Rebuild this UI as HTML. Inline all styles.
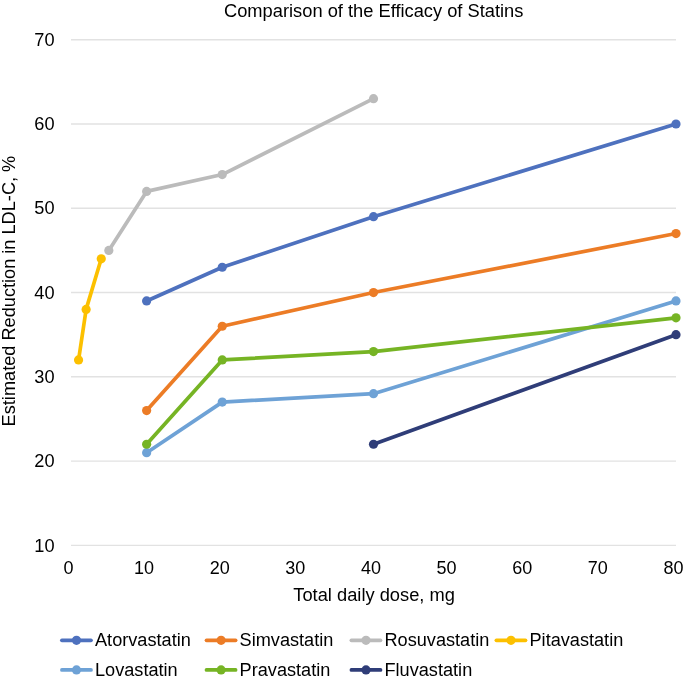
<!DOCTYPE html>
<html><head><meta charset="utf-8"><title>Comparison of the Efficacy of Statins</title>
<style>
html,body{margin:0;padding:0;background:#fff;}
body{width:685px;height:680px;overflow:hidden;}
svg{display:block;will-change:transform;}
text{font-family:"Liberation Sans",sans-serif;font-size:18px;fill:#000;}
</style></head><body>
<svg width="685" height="680" viewBox="0 0 685 680">
<rect width="685" height="680" fill="#fff"/>
<line x1="71" y1="545.38" x2="676" y2="545.38" stroke="#e2e2e2" stroke-width="1.45"/>
<line x1="71" y1="461.10" x2="676" y2="461.10" stroke="#e2e2e2" stroke-width="1.45"/>
<line x1="71" y1="376.82" x2="676" y2="376.82" stroke="#e2e2e2" stroke-width="1.45"/>
<line x1="71" y1="292.54" x2="676" y2="292.54" stroke="#e2e2e2" stroke-width="1.45"/>
<line x1="71" y1="208.26" x2="676" y2="208.26" stroke="#e2e2e2" stroke-width="1.45"/>
<line x1="71" y1="123.98" x2="676" y2="123.98" stroke="#e2e2e2" stroke-width="1.45"/>
<line x1="71" y1="39.70" x2="676" y2="39.70" stroke="#e2e2e2" stroke-width="1.45"/>
<text x="54.6" y="551.58" text-anchor="end" style="font-size:18.2px">10</text>
<text x="54.6" y="467.30" text-anchor="end" style="font-size:18.2px">20</text>
<text x="54.6" y="383.02" text-anchor="end" style="font-size:18.2px">30</text>
<text x="54.6" y="298.74" text-anchor="end" style="font-size:18.2px">40</text>
<text x="54.6" y="214.46" text-anchor="end" style="font-size:18.2px">50</text>
<text x="54.6" y="130.18" text-anchor="end" style="font-size:18.2px">60</text>
<text x="54.6" y="45.90" text-anchor="end" style="font-size:18.2px">70</text>
<text x="68.40" y="574" text-anchor="middle">0</text>
<text x="144.03" y="574" text-anchor="middle">10</text>
<text x="219.65" y="574" text-anchor="middle">20</text>
<text x="295.27" y="574" text-anchor="middle">30</text>
<text x="370.90" y="574" text-anchor="middle">40</text>
<text x="446.52" y="574" text-anchor="middle">50</text>
<text x="522.15" y="574" text-anchor="middle">60</text>
<text x="597.77" y="574" text-anchor="middle">70</text>
<text x="673.40" y="574" text-anchor="middle">80</text>
<polyline points="146.62,300.97 222.25,267.26 373.50,216.69 676.00,123.98" fill="none" stroke="#4E71BE" stroke-width="3.7" stroke-linejoin="round" stroke-linecap="round"/>
<polyline points="146.62,410.53 222.25,326.25 373.50,292.54 676.00,233.54" fill="none" stroke="#EC7C26" stroke-width="3.7" stroke-linejoin="round" stroke-linecap="round"/>
<polyline points="108.81,250.40 146.62,191.40 222.25,174.55 373.50,98.70" fill="none" stroke="#BBBBBB" stroke-width="3.7" stroke-linejoin="round" stroke-linecap="round"/>
<polyline points="78.56,359.96 86.12,309.40 101.25,258.83" fill="none" stroke="#FCC000" stroke-width="3.7" stroke-linejoin="round" stroke-linecap="round"/>
<polyline points="146.62,452.67 222.25,402.10 373.50,393.68 676.00,300.97" fill="none" stroke="#6EA2D6" stroke-width="3.7" stroke-linejoin="round" stroke-linecap="round"/>
<polyline points="146.62,444.24 222.25,359.96 373.50,351.54 676.00,317.82" fill="none" stroke="#76B424" stroke-width="3.7" stroke-linejoin="round" stroke-linecap="round"/>
<polyline points="373.50,444.24 676.00,334.68" fill="none" stroke="#2F3D78" stroke-width="3.7" stroke-linejoin="round" stroke-linecap="round"/>
<circle cx="146.62" cy="300.97" r="4.6" fill="#4E71BE"/>
<circle cx="222.25" cy="267.26" r="4.6" fill="#4E71BE"/>
<circle cx="373.50" cy="216.69" r="4.6" fill="#4E71BE"/>
<circle cx="676.00" cy="123.98" r="4.6" fill="#4E71BE"/>
<circle cx="146.62" cy="410.53" r="4.6" fill="#EC7C26"/>
<circle cx="222.25" cy="326.25" r="4.6" fill="#EC7C26"/>
<circle cx="373.50" cy="292.54" r="4.6" fill="#EC7C26"/>
<circle cx="676.00" cy="233.54" r="4.6" fill="#EC7C26"/>
<circle cx="108.81" cy="250.40" r="4.6" fill="#BBBBBB"/>
<circle cx="146.62" cy="191.40" r="4.6" fill="#BBBBBB"/>
<circle cx="222.25" cy="174.55" r="4.6" fill="#BBBBBB"/>
<circle cx="373.50" cy="98.70" r="4.6" fill="#BBBBBB"/>
<circle cx="78.56" cy="359.96" r="4.6" fill="#FCC000"/>
<circle cx="86.12" cy="309.40" r="4.6" fill="#FCC000"/>
<circle cx="101.25" cy="258.83" r="4.6" fill="#FCC000"/>
<circle cx="146.62" cy="452.67" r="4.6" fill="#6EA2D6"/>
<circle cx="222.25" cy="402.10" r="4.6" fill="#6EA2D6"/>
<circle cx="373.50" cy="393.68" r="4.6" fill="#6EA2D6"/>
<circle cx="676.00" cy="300.97" r="4.6" fill="#6EA2D6"/>
<circle cx="146.62" cy="444.24" r="4.6" fill="#76B424"/>
<circle cx="222.25" cy="359.96" r="4.6" fill="#76B424"/>
<circle cx="373.50" cy="351.54" r="4.6" fill="#76B424"/>
<circle cx="676.00" cy="317.82" r="4.6" fill="#76B424"/>
<circle cx="373.50" cy="444.24" r="4.6" fill="#2F3D78"/>
<circle cx="676.00" cy="334.68" r="4.6" fill="#2F3D78"/>
<text x="224.0" y="17.2" style="font-size:18.3px">Comparison of the Efficacy of Statins</text>
<text x="293.3" y="601.2" style="font-size:18.3px">Total daily dose, mg</text>
<text transform="translate(15.3,426.4) rotate(-90)" style="font-size:18.18px">Estimated Reduction in LDL-C, %</text>
<line x1="61.9" y1="640.3" x2="91.0" y2="640.3" stroke="#4E71BE" stroke-width="3.7" stroke-linecap="round"/>
<circle cx="76.5" cy="640.3" r="4.6" fill="#4E71BE"/>
<text x="95.0" y="646.1" style="font-size:18.15px">Atorvastatin</text>
<line x1="206.5" y1="640.3" x2="235.6" y2="640.3" stroke="#EC7C26" stroke-width="3.7" stroke-linecap="round"/>
<circle cx="221.1" cy="640.3" r="4.6" fill="#EC7C26"/>
<text x="239.6" y="646.1" style="font-size:18.15px">Simvastatin</text>
<line x1="351.4" y1="640.3" x2="380.5" y2="640.3" stroke="#BBBBBB" stroke-width="3.7" stroke-linecap="round"/>
<circle cx="366.0" cy="640.3" r="4.6" fill="#BBBBBB"/>
<text x="384.5" y="646.1" style="font-size:18.15px">Rosuvastatin</text>
<line x1="496.4" y1="640.3" x2="525.5" y2="640.3" stroke="#FCC000" stroke-width="3.7" stroke-linecap="round"/>
<circle cx="511.0" cy="640.3" r="4.6" fill="#FCC000"/>
<text x="529.5" y="646.1" style="font-size:18.15px">Pitavastatin</text>
<line x1="61.9" y1="669.9" x2="91.0" y2="669.9" stroke="#6EA2D6" stroke-width="3.7" stroke-linecap="round"/>
<circle cx="76.5" cy="669.9" r="4.6" fill="#6EA2D6"/>
<text x="95.0" y="675.7" style="font-size:18.15px">Lovastatin</text>
<line x1="206.5" y1="669.9" x2="235.6" y2="669.9" stroke="#76B424" stroke-width="3.7" stroke-linecap="round"/>
<circle cx="221.1" cy="669.9" r="4.6" fill="#76B424"/>
<text x="239.6" y="675.7" style="font-size:18.15px">Pravastatin</text>
<line x1="351.4" y1="669.9" x2="380.5" y2="669.9" stroke="#2F3D78" stroke-width="3.7" stroke-linecap="round"/>
<circle cx="366.0" cy="669.9" r="4.6" fill="#2F3D78"/>
<text x="384.5" y="675.7" style="font-size:18.15px">Fluvastatin</text>
</svg>
</body></html>
